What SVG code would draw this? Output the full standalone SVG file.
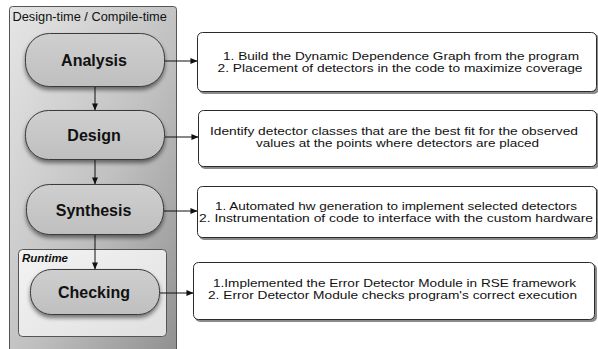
<svg xmlns="http://www.w3.org/2000/svg" width="598" height="349" viewBox="0 0 598 349">
  <defs>
    <linearGradient id="outerFill" x1="0" y1="0" x2="1" y2="1">
      <stop offset="0" stop-color="#e6e6e6"/>
      <stop offset="0.55" stop-color="#c0c0c0"/>
      <stop offset="1" stop-color="#909090"/>
    </linearGradient>
    <linearGradient id="runtimeFill" x1="0" y1="0" x2="1" y2="1">
      <stop offset="0" stop-color="#f3f3f3"/>
      <stop offset="1" stop-color="#e0e0e0"/>
    </linearGradient>
    <linearGradient id="pillFill" x1="0" y1="0" x2="0" y2="1">
      <stop offset="0" stop-color="#cfcfcf"/>
      <stop offset="1" stop-color="#bfbfbf"/>
    </linearGradient>
    <filter id="pillShadow" x="-20%" y="-30%" width="140%" height="170%">
      <feGaussianBlur in="SourceAlpha" stdDeviation="2"/>
      <feOffset dx="0" dy="3" result="b"/>
      <feComponentTransfer><feFuncA type="linear" slope="0.5"/></feComponentTransfer>
      <feMerge><feMergeNode/><feMergeNode in="SourceGraphic"/></feMerge>
    </filter>
    <marker id="arrow" viewBox="0 0 8 8" refX="7.5" refY="4" markerWidth="7" markerHeight="7" markerUnits="userSpaceOnUse" orient="auto">
      <path d="M0,0.6 L8,4 L0,7.4 Z" fill="#111"/>
    </marker>
  </defs>
  <style>
    .pill { fill: url(#pillFill); stroke: #3a3a3a; stroke-width: 1; filter: url(#pillShadow); }
    .pill-label { font-family: "Liberation Sans", Arial, sans-serif; font-weight: bold; font-size: 16px; fill: #111; text-anchor: middle; }
    .note-shadow { fill: #8a8a8a; }
    .note { fill: #ffffff; stroke: #2a2a2a; stroke-width: 1; }
    .note-text { font-family: "Liberation Sans", Arial, sans-serif; font-size: 11.5px; fill: #111; text-anchor: middle; }
    .edge { stroke: #111; stroke-width: 1; fill: none; marker-end: url(#arrow); }
    .caption { font-family: "Liberation Sans", Arial, sans-serif; font-size: 12.8px; fill: #111; }
  </style>

  <rect width="598" height="349" fill="#ffffff"/>

  <!-- design-time container -->
  <g id="design-time">
    <rect x="9.5" y="6.5" width="167" height="350" rx="3" fill="url(#outerFill)" stroke="#555" stroke-width="1"/>
    <text class="caption" x="12.5" y="21">Design-time / Compile-time</text>
  </g>

  <!-- runtime container -->
  <g id="runtime">
    <rect x="18.5" y="249.5" width="148" height="87" rx="4" fill="url(#runtimeFill)" stroke="#555" stroke-width="1"/>
    <text x="22" y="262" font-family="Liberation Sans, Arial, sans-serif" font-size="11.5" font-weight="bold" font-style="italic" fill="#111">Runtime</text>
  </g>

  <!-- phases -->
  <g id="analysis">
    <rect class="pill" x="25.5" y="33.5" width="139" height="53" rx="24"/>
    <text class="pill-label" x="94" y="66">Analysis</text>
  </g>
  <g id="design">
    <rect class="pill" x="25.5" y="110.5" width="139" height="49" rx="23"/>
    <text class="pill-label" x="94" y="141">Design</text>
  </g>
  <g id="synthesis">
    <rect class="pill" x="26.5" y="184.5" width="137" height="50" rx="23"/>
    <text class="pill-label" x="93.5" y="216">Synthesis</text>
  </g>
  <g id="checking">
    <rect class="pill" x="30.5" y="269.5" width="129" height="45" rx="21"/>
    <text class="pill-label" x="94" y="298">Checking</text>
  </g>

  <!-- descriptions -->
  <g id="analysis-note">
    <rect class="note-shadow" x="199" y="34" width="400" height="60" rx="5"/>
    <rect class="note" x="197.5" y="32.5" width="399" height="59" rx="5"/>
    <text class="note-text" x="401" y="60" textLength="356" lengthAdjust="spacingAndGlyphs">1. Build the Dynamic Dependence Graph from the program</text>
    <text class="note-text" x="400" y="72" textLength="365" lengthAdjust="spacingAndGlyphs">2. Placement of detectors in the code to maximize coverage</text>
  </g>
  <g id="design-note">
    <rect class="note-shadow" x="200" y="112" width="399" height="57" rx="5"/>
    <rect class="note" x="198.5" y="110.5" width="398" height="56" rx="5"/>
    <text class="note-text" x="394" y="135" textLength="368" lengthAdjust="spacingAndGlyphs">Identify detector classes that are the best fit for the observed</text>
    <text class="note-text" x="397.5" y="147" textLength="283" lengthAdjust="spacingAndGlyphs">values at the points where detectors are placed</text>
  </g>
  <g id="synthesis-note">
    <rect class="note-shadow" x="199" y="188" width="400" height="52" rx="5"/>
    <rect class="note" x="197.5" y="186.5" width="399" height="51" rx="5"/>
    <text class="note-text" x="396" y="210" textLength="362" lengthAdjust="spacingAndGlyphs">1. Automated hw generation to implement selected detectors</text>
    <text class="note-text" x="396" y="222" textLength="394" lengthAdjust="spacingAndGlyphs">2. Instrumentation of code to interface with the custom hardware</text>
  </g>
  <g id="checking-note">
    <rect class="note-shadow" x="195" y="264" width="402" height="58" rx="5"/>
    <rect class="note" x="193.5" y="262.5" width="401" height="57" rx="5"/>
    <text class="note-text" x="394.5" y="287" textLength="363" lengthAdjust="spacingAndGlyphs">1.Implemented the Error Detector Module in RSE framework</text>
    <text class="note-text" x="392.5" y="299" textLength="369" lengthAdjust="spacingAndGlyphs">2. Error Detector Module checks program's correct execution</text>
  </g>

  <!-- connectors -->
  <g id="connectors">
    <line class="edge" x1="95" y1="87" x2="95" y2="110"/>
    <line class="edge" x1="95" y1="160" x2="95" y2="184"/>
    <line class="edge" x1="95" y1="235" x2="95" y2="269"/>
    <line class="edge" x1="165" y1="61" x2="197" y2="61"/>
    <line class="edge" x1="165" y1="137" x2="198" y2="137"/>
    <line class="edge" x1="164" y1="211" x2="197" y2="211"/>
    <line class="edge" x1="160" y1="293" x2="193" y2="293"/>
  </g>
</svg>
